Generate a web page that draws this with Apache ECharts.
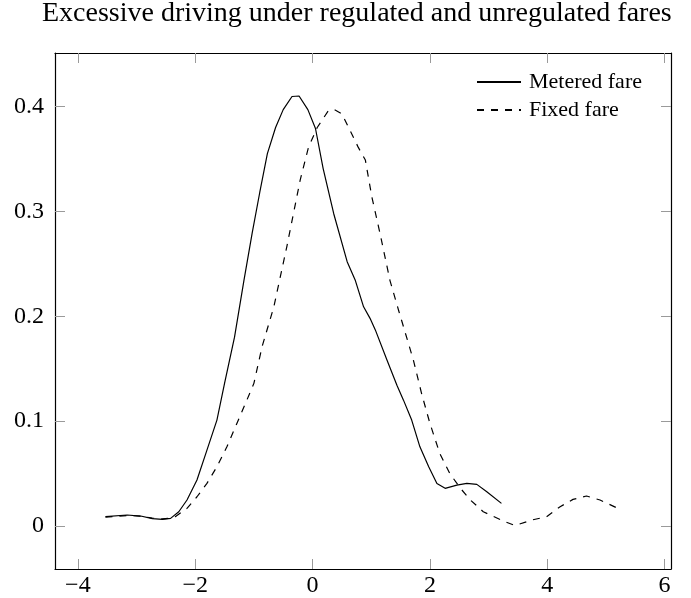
<!DOCTYPE html>
<html>
<head>
<meta charset="utf-8">
<script src="https://cdn.jsdelivr.net/npm/echarts@6/dist/echarts.min.js"></script>
<style>html,body{margin:0;padding:0;background:#fff;}#c{width:691px;height:598px;}</style>
</head>
<body>
<div id="c"></div>
<script>
const titleText = 'Excessive driving under regulated and unregulated fares';
const seriesNames = ['Metered fare', 'Fixed fare'];
const xTicks = [-4, -2, 0, 2, 4, 6];
const yTicks = [0, 0.1, 0.2, 0.3, 0.4];

const meteredX = [-3.53, -3.16, -2.93, -2.73, -2.56, -2.42, -2.28, -2.14, -1.97, -1.80, -1.63, -1.50, -1.33, -1.17, -1.03, -0.90, -0.77, -0.63, -0.50, -0.35, -0.23, -0.08, 0.05, 0.18, 0.36, 0.59, 0.73, 0.87, 0.98, 1.07, 1.27, 1.44, 1.55, 1.69, 1.83, 1.98, 2.12, 2.26, 2.46, 2.63, 2.80, 2.97, 3.22];
const meteredY = [0.0089, 0.0105, 0.0095, 0.0070, 0.0064, 0.0073, 0.0136, 0.0248, 0.0438, 0.0724, 0.101, 0.136, 0.180, 0.234, 0.279, 0.318, 0.355, 0.380, 0.397, 0.4095, 0.410, 0.397, 0.379, 0.341, 0.298, 0.252, 0.234, 0.209, 0.198, 0.187, 0.158, 0.134, 0.120, 0.101, 0.0755, 0.0565, 0.0406, 0.0359, 0.0390, 0.0406, 0.0397, 0.0327, 0.0216];

const fixedX = [-3.53, -3.16, -2.93, -2.73, -2.56, -2.42, -2.34, -2.14, -1.97, -1.80, -1.63, -1.46, -1.29, -1.12, -1.00, -0.86, -0.66, -0.44, -0.21, -0.07, 0.08, 0.27, 0.37, 0.50, 0.64, 0.78, 0.90, 1.01, 1.15, 1.32, 1.47, 1.55, 1.72, 1.86, 2.00, 2.17, 2.34, 2.52, 2.69, 2.91, 3.28, 3.45, 3.74, 3.99, 4.22, 4.44, 4.67, 4.90, 5.24];
const fixedY = [0.0085, 0.0100, 0.0095, 0.0075, 0.0068, 0.0075, 0.0089, 0.0168, 0.0279, 0.0406, 0.0565, 0.0755, 0.0978, 0.120, 0.136, 0.171, 0.209, 0.266, 0.330, 0.361, 0.380, 0.396, 0.397, 0.393, 0.377, 0.361, 0.349, 0.314, 0.279, 0.234, 0.205, 0.190, 0.158, 0.126, 0.098, 0.069, 0.050, 0.036, 0.0248, 0.0136, 0.0041, 0.0005, 0.0057, 0.0089, 0.0184, 0.0254, 0.0286, 0.0248, 0.0159];

const FONT = 'Liberation Serif';
const fmt = v => String(v).replace('-', '\u2212');
const zip = (xs, ys) => xs.map((x, i) => [x, ys[i]]);

const tickStyle = {inside: true, length: 10, lineStyle: {color: '#9a9a9a', width: 1}};
const lineStyle = {lineStyle: {color: '#000', width: 1.2}};

const xBase = {type: 'value', min: -4.39, max: 6.11, splitLine: {show: false}, axisLine: Object.assign({onZero: false}, lineStyle)};
const yBase = {type: 'value', min: -0.041, max: 0.451, splitLine: {show: false}, axisLine: Object.assign({onZero: false}, lineStyle)};

const chart = echarts.init(document.getElementById('c'), null, {renderer: 'canvas'});
chart.setOption({
  animation: false,
  backgroundColor: '#fff',
  title: {
    text: titleText, left: 42, top: 0, padding: 0,
    textStyle: {fontFamily: FONT, fontSize: 28, fontWeight: 'normal', color: '#000'}
  },
  legend: {
    orient: 'vertical', left: 471, top: 66, itemWidth: 44, itemHeight: 14, itemGap: 6,
    align: 'left',
    itemStyle: {opacity: 0, borderWidth: 0},
    textStyle: {fontFamily: FONT, fontSize: 22, color: '#000', padding: [0, 0, 0, 3]},
    data: seriesNames
  },
  grid: {left: 55, right: 20, top: 53, bottom: 29},
  xAxis: [
    Object.assign({}, xBase, {position: 'bottom',
      axisTick: Object.assign({customValues: xTicks}, tickStyle),
      axisLabel: {customValues: xTicks, formatter: fmt, fontFamily: FONT, fontSize: 24, color: '#000', margin: 5}}),
    Object.assign({}, xBase, {position: 'top',
      axisTick: Object.assign({customValues: xTicks}, tickStyle),
      axisLabel: {show: false}})
  ],
  yAxis: [
    Object.assign({}, yBase, {position: 'left',
      axisTick: Object.assign({customValues: yTicks}, tickStyle),
      axisLabel: {customValues: yTicks, formatter: fmt, fontFamily: FONT, fontSize: 24, color: '#000', margin: 11}}),
    Object.assign({}, yBase, {position: 'right',
      axisTick: Object.assign({customValues: yTicks}, tickStyle),
      axisLabel: {show: false}})
  ],
  series: [
    {name: seriesNames[0], type: 'line', xAxisIndex: 0, yAxisIndex: 0, symbol: 'none',
     lineStyle: {color: '#000', width: 1.2, type: 'solid'}, itemStyle: {color: '#000'},
     data: zip(meteredX, meteredY)},
    {name: seriesNames[1], type: 'line', xAxisIndex: 0, yAxisIndex: 0, symbol: 'none',
     lineStyle: {color: '#000', width: 1.2, type: [7, 7]}, itemStyle: {color: '#000'},
     data: zip(fixedX, fixedY)}
  ]
});
</script>
</body>
</html>
